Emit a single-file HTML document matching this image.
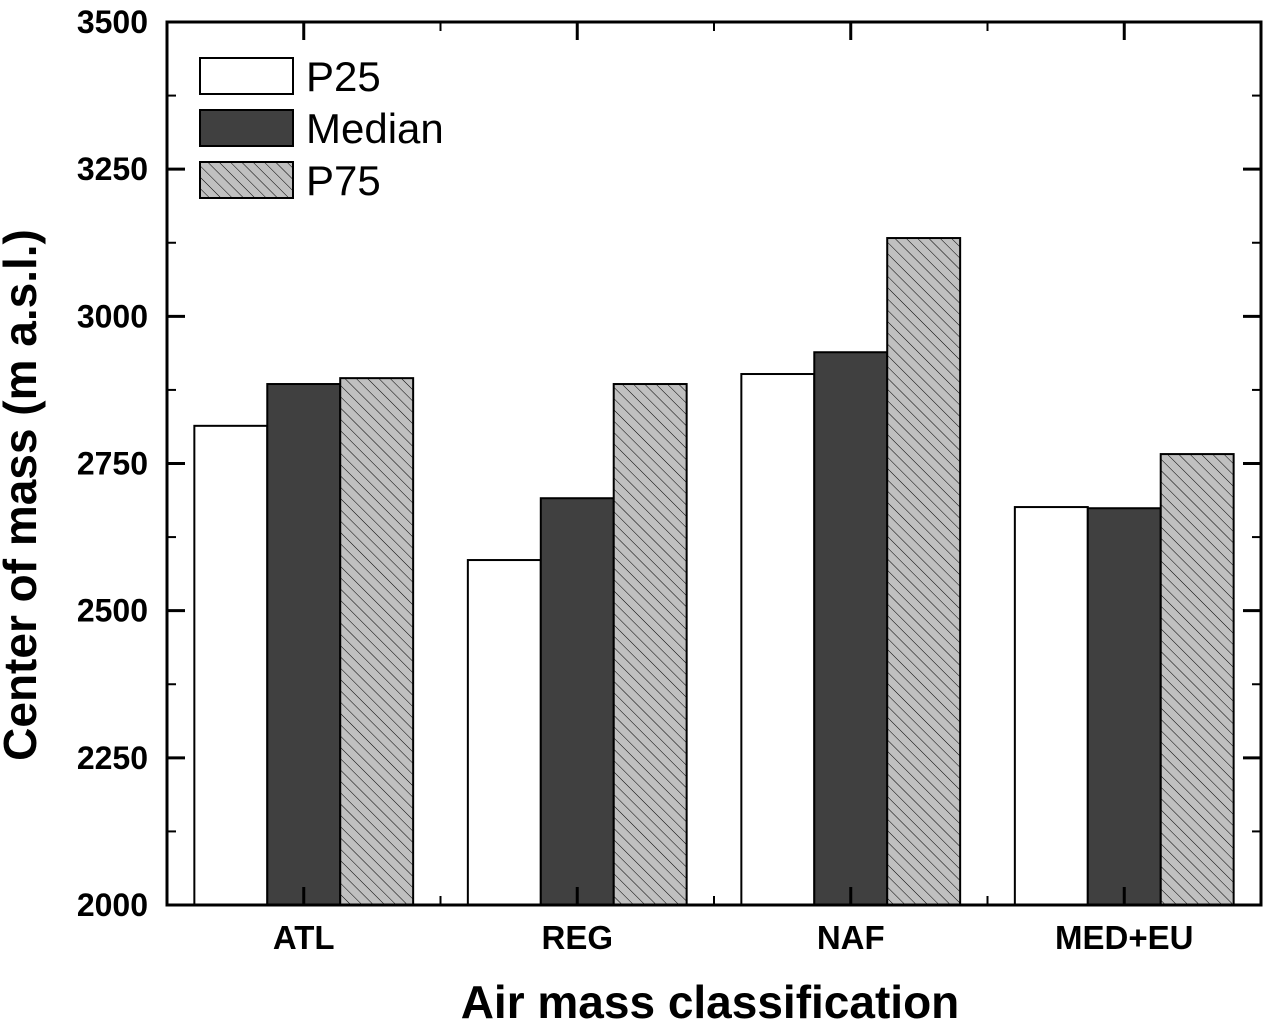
<!DOCTYPE html>
<html><head><meta charset="utf-8"><style>
html,body{margin:0;padding:0;background:#fff;}
svg{display:block;font-family:"Liberation Sans",Arial,sans-serif;}
</style></head><body>
<svg id="chart" width="1264" height="1021" viewBox="0 0 1264 1021">
<defs>
<pattern id="hatch" patternUnits="userSpaceOnUse" width="8" height="8" patternTransform="rotate(-45)">
<rect width="8" height="8" fill="#c0c0c0"/>
<line x1="0" y1="0" x2="0" y2="8" stroke="#000" stroke-width="1"/>
</pattern>
</defs>
<g id="bars"></g>
<g id="axes"></g>
<g>
<rect x="200" y="58" width="93" height="36" fill="#fff" stroke="#000" stroke-width="2"/>
<text x="306" y="91" font-size="42">P25</text>
<rect x="200" y="110" width="93" height="36" fill="#404040" stroke="#000" stroke-width="2"/>
<text x="306" y="143" font-size="42">Median</text>
<rect x="200" y="162" width="93" height="36" fill="url(#hatch)" stroke="#000" stroke-width="2"/>
<text x="306" y="195" font-size="42">P75</text>
</g>
<text x="710" y="1018" font-size="46" font-weight="bold" text-anchor="middle">Air mass classification</text>
<text transform="translate(36,495) rotate(-90)" font-size="46" font-weight="bold" text-anchor="middle">Center of mass (m a.s.l.)</text>
</svg>
<script>
const categories = ["ATL","REG","NAF","MED+EU"];
const p25 = [2814, 2586, 2902, 2676];
const median = [2885, 2691, 2939, 2674];
const p75 = [2895, 2885, 3133, 2766];
const yTicks = [2000, 2250, 2500, 2750, 3000, 3250, 3500];

const L=167, R=1261, T=22, B=905, YMIN=2000, YMAX=3500;
const y = v => B - (v - YMIN) / (YMAX - YMIN) * (B - T);
const cw = (R - L) / categories.length;
const bw = cw * 0.8 / 3;
const x = (i, s) => L + cw * i + cw * 0.1 + bw * s;
const NS = "http://www.w3.org/2000/svg";
const mk = (tag, attrs, parent) => { const e = document.createElementNS(NS, tag); for (const k in attrs) e.setAttribute(k, attrs[k]); parent.appendChild(e); return e; };
const bars = document.getElementById('bars'), axes = document.getElementById('axes');
const series = [[p25, "#fff", "p25"], [median, "#404040", "median"], [p75, "url(#hatch)", "p75"]];
series.forEach(([vals, fill, nm], s) => {
  vals.forEach((v, i) => {
    const r = mk('rect', {x: x(i, s), y: y(v), width: bw, height: B - y(v), fill: fill, stroke: "#000", "stroke-width": 2}, bars);
    
    
  });
});
const fr = mk('rect', {x: L, y: T, width: R - L, height: B - T, fill: "none", stroke: "#000", "stroke-width": 3}, axes);


yTicks.forEach((v, i) => {
  const yy = y(v);
  mk('line', {x1: L, x2: L + 18, y1: yy, y2: yy, stroke: "#000", "stroke-width": 3}, axes);
  mk('line', {x1: R, x2: R - 18, y1: yy, y2: yy, stroke: "#000", "stroke-width": 3}, axes);
  if (i < yTicks.length - 1) {
    const ym = y(v + 125);
    mk('line', {x1: L, x2: L + 9, y1: ym, y2: ym, stroke: "#000", "stroke-width": 2}, axes);
    mk('line', {x1: R, x2: R - 9, y1: ym, y2: ym, stroke: "#000", "stroke-width": 2}, axes);
  }
  const t = mk('text', {x: 148, y: yy + 11, "font-size": 32, "font-weight": "bold", "text-anchor": "end"}, axes);
  t.textContent = v;
  
  
});
categories.forEach((c, i) => {
  const cx = L + cw * (i + 0.5);
  mk('line', {x1: cx, x2: cx, y1: B, y2: B - 18, stroke: "#000", "stroke-width": 3}, axes);
  mk('line', {x1: cx, x2: cx, y1: T, y2: T + 18, stroke: "#000", "stroke-width": 3}, axes);
  if (i > 0) {
    const bx = L + cw * i;
    mk('line', {x1: bx, x2: bx, y1: B, y2: B - 9, stroke: "#000", "stroke-width": 2}, axes);
    mk('line', {x1: bx, x2: bx, y1: T, y2: T + 9, stroke: "#000", "stroke-width": 2}, axes);
  }
  const t = mk('text', {x: cx, y: 949, "font-size": 33, "font-weight": "bold", "text-anchor": "middle"}, axes);
  t.textContent = c;
  
  
});
</script>
</body></html>
